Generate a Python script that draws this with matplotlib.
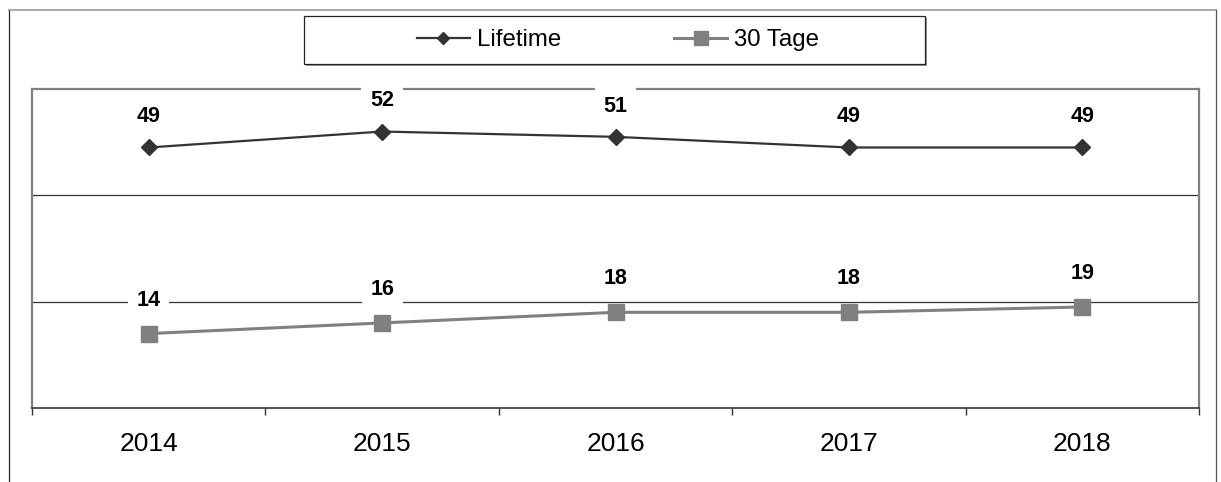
import matplotlib.pyplot as plt
import matplotlib.patches as mpatches
from matplotlib.lines import Line2D
import numpy as np

plt.rcParams['font.family'] = ['Liberation Sans', 'DejaVu Sans']

years = ['2014', '2015', '2016', '2017', '2018']
lifetime = [49, 52, 51, 49, 49]
tage30 = [14, 16, 18, 18, 19]

c_life = '#333333'
c_30 = '#808080'

W, H = 1221, 482
fig = plt.figure(figsize=(W / 100, H / 100), dpi=100)

# plot area in pixels: x 32..1199, y 89..408
ax = fig.add_axes([32 / W, 1 - 408 / H, (1199 - 32) / W, (408 - 89) / H])

x = np.arange(len(years))
ax.plot(x, lifetime, color=c_life, lw=1.6, marker='D', ms=8.5, zorder=3, clip_on=False)
ax.plot(x, tage30, color=c_30, lw=2.2, marker='s', ms=12, zorder=3, clip_on=False)

for xi, v in zip(x, lifetime):
    ax.annotate(str(v), (xi, v), xytext=(0, 22), textcoords='offset points',
                ha='center', va='center', fontsize=15.5, fontweight='bold',
                bbox=dict(boxstyle='square,pad=0.4', fc='white', ec='none'),
                zorder=10, annotation_clip=False)
for xi, v in zip(x, tage30):
    ax.annotate(str(v), (xi, v), xytext=(0, 24), textcoords='offset points',
                ha='center', va='center', fontsize=15.5, fontweight='bold',
                bbox=dict(boxstyle='square,pad=0.4', fc='white', ec='none'),
                zorder=10, annotation_clip=False)

ax.set_xlim(-0.5, len(years) - 0.5)
ax.set_ylim(0, 60)
ax.set_yticks([20, 40])
ax.yaxis.grid(True, color='#333333', lw=0.9)
ax.set_axisbelow(True)
ax.tick_params(axis='y', left=False, labelleft=False)

ax.set_xticks(x)
ax.set_xticklabels(years, fontsize=19)
ax.set_xticks(np.arange(-0.5, len(years), 1), minor=True)
ax.tick_params(axis='x', which='major', length=0, pad=17)
ax.tick_params(axis='x', which='minor', length=5, width=1, color='#333333')

for s in ['top', 'left', 'right']:
    ax.spines[s].set_color('#808080')
    ax.spines[s].set_linewidth(1.6)
    ax.spines[s].set_zorder(2)
ax.spines['bottom'].set_color('#333333')
ax.spines['bottom'].set_linewidth(1.2)

# outer frame
fig.add_artist(Line2D([9 / W, 9 / W], [0, 1 - 10 / H], color='#222222', lw=0.9))
fig.add_artist(Line2D([9 / W, 1216 / W], [1 - 10 / H, 1 - 10 / H], color='#999999', lw=1.2))
fig.add_artist(Line2D([1216 / W, 1216 / W], [0, 1 - 10 / H], color='#555555', lw=0.9))

# legend box with shadow
lx0, lx1, ly0, ly1 = 304, 925, 16, 64
fig.add_artist(mpatches.Rectangle(((lx0 + 2) / W, 1 - (ly1 + 2) / H), (lx1 - lx0) / W,
                                  (ly1 - ly0) / H, fc='#999999', ec='none'))
fig.add_artist(mpatches.Rectangle((lx0 / W, 1 - ly1 / H), (lx1 - lx0) / W,
                                  (ly1 - ly0) / H, fc='white', ec='#222222', lw=0.9))

handles = [Line2D([], [], color=c_life, lw=1.6, marker='D', ms=6.5),
           Line2D([], [], color=c_30, lw=2.2, marker='s', ms=10)]
fig.legend(handles, ['Lifetime', '30 Tage'], loc='center', ncol=2, frameon=False,
           bbox_to_anchor=(618 / W, 1 - 40 / H), fontsize=17.3,
           handlelength=2.2, handletextpad=0.3, columnspacing=4.7)

fig.savefig('out.png', dpi=100)
